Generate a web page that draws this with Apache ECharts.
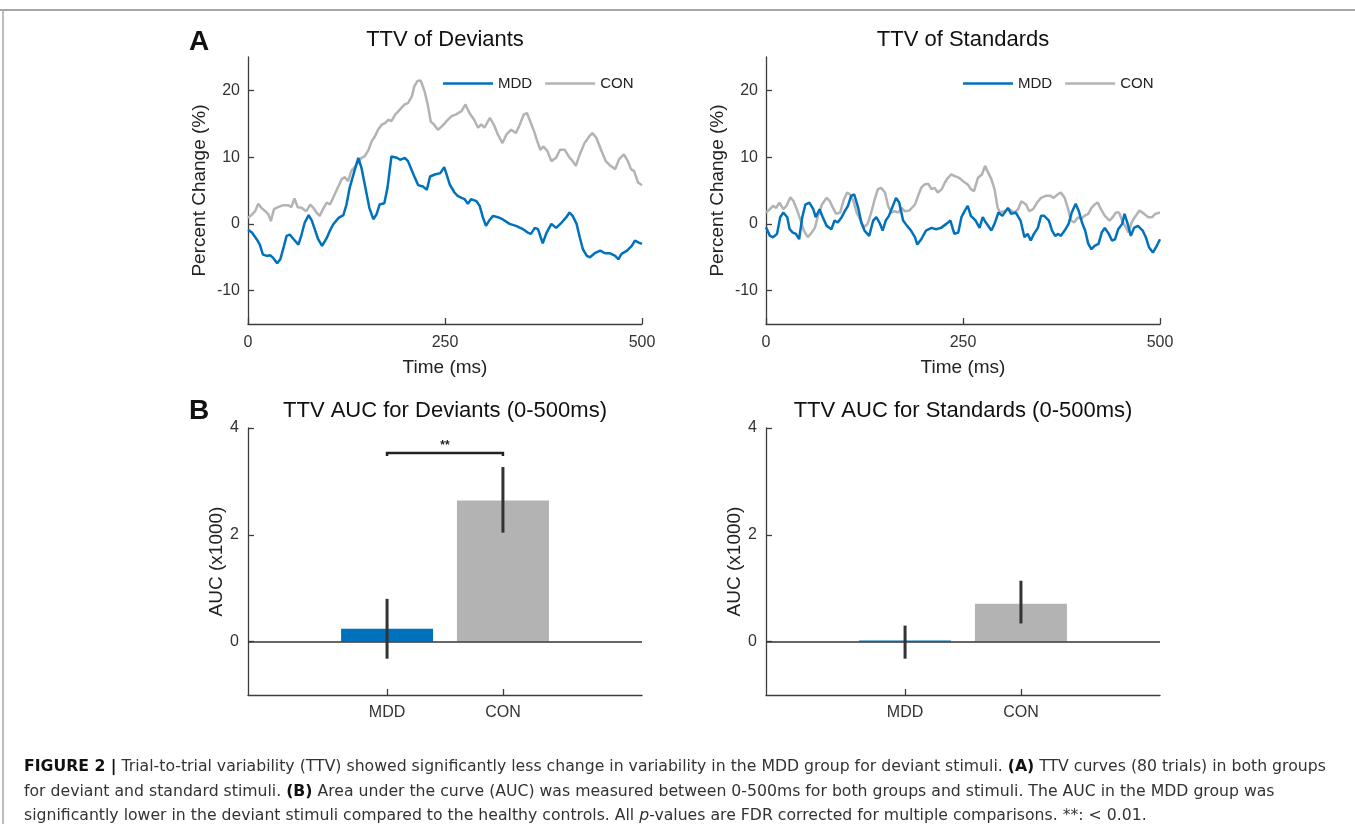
<!DOCTYPE html>
<html>
<head>
<meta charset="utf-8">
<script src="https://cdn.jsdelivr.net/npm/echarts@6/dist/echarts.min.js"></script>
<style>
html, body { margin: 0; padding: 0; background: #fff; }
#main { width: 1355px; height: 824px; }
</style>
</head>
<body>
<div id="main"></div>
<script>
// TTV curves, [time (ms), percent change]
var devMdd = [[0,-0.9],[5,-1.3],[11,-2.3],[15,-3.1],[19,-4.6],[24,-4.8],[28,-4.7],[32,-5.1],[37,-5.9],[41,-5.3],
	[45,-3.6],[49,-1.8],[53,-1.6],[58,-2.3],[64,-3.1],[68,-1.6],[72,0.2],[77,1.3],[81,0.5],[85,-0.9],
	[89,-2.3],[94,-3.3],[100,-2.1],[104,-1.0],[108,-0.1],[115,0.9],[121,1.3],[125,2.9],[129,5.4],[135,7.9],
	[140,9.9],[144,8.4],[149,5.4],[154,2.4],[159,0.7],[163,1.4],[167,2.9],[173,3.1],[177,5.4],[182,10.1],
	[189,9.9],[193,9.6],[199,9.9],[203,9.4],[210,7.4],[216,5.8],[222,5.6],[227,5.1],[231,7.1],[237,7.4],
	[244,7.6],[249,8.5],[252,7.4],[256,5.9],[262,4.7],[266,4.2],[271,3.9],[275,3.7],[279,3.0],[283,3.7],
	[290,3.4],[294,2.7],[298,1.0],[302,-0.3],[306,0.5],[311,1.2],[317,1.0],[323,0.7],[332,0.0],[340,-0.3],
	[349,-0.8],[355,-1.3],[359,-1.5],[364,-0.6],[368,-0.8],[374,-2.9],[379,-1.3],[385,0.0],[391,-0.6],[398,0.2],
	[404,1.0],[408,1.7],[412,1.2],[417,0.0],[421,-2.0],[425,-3.8],[430,-4.8],[434,-5.0],[440,-4.4],[447,-4.0],
	[453,-4.4],[459,-4.4],[466,-4.8],[470,-5.3],[474,-4.5],[481,-4.0],[487,-3.3],[491,-2.5],[496,-2.8],[500,-3.0]];

var devCon = [[0,0.9],[5,1.4],[9,1.9],[13,3.0],[17,2.4],[22,1.9],[26,1.4],[29,0.4],[33,2.2],[38,2.5],
	[45,2.8],[51,2.8],[55,2.5],[59,3.8],[63,2.5],[68,2.4],[74,1.9],[79,2.9],[83,2.4],[87,1.7],
	[91,1.2],[96,2.4],[100,3.2],[104,2.9],[108,3.9],[113,5.2],[119,6.7],[123,7.0],[127,6.4],[131,7.9],
	[138,8.9],[144,9.9],[148,10.1],[153,11.1],[157,12.4],[161,13.1],[165,14.1],[170,14.9],[174,15.1],[178,15.6],
	[182,15.4],[187,16.4],[191,16.9],[195,17.4],[199,17.9],[203,18.1],[208,19.1],[211,20.6],[215,21.4],[219,21.5],
	[224,19.9],[228,17.9],[232,15.3],[236,14.9],[241,14.1],[246,14.6],[250,15.1],[252,15.4],[258,16.1],[264,16.4],
	[271,16.9],[276,17.9],[281,16.6],[287,15.6],[292,14.4],[296,14.9],[300,14.4],[307,15.9],[313,14.6],[317,13.4],
	[323,12.1],[328,13.4],[334,14.1],[340,13.6],[345,14.9],[350,16.4],[354,16.6],[359,15.1],[363,13.9],[367,12.4],
	[371,11.1],[375,11.6],[380,10.9],[385,9.4],[391,9.9],[396,11.1],[402,11.1],[407,10.1],[412,9.4],[416,8.7],
	[421,10.4],[427,12.1],[433,13.1],[437,13.6],[442,12.9],[448,11.1],[454,9.4],[460,8.7],[466,8.2],[471,9.7],
	[477,10.4],[482,9.4],[486,8.2],[490,7.9],[495,6.2],[500,5.8]];

var stdMdd = [[0,-0.5],[5,-1.8],[9,-2.0],[14,-1.5],[18,1.0],[22,1.7],[27,1.0],[30,-0.8],[34,-1.3],[38,-1.5],
	[42,-2.3],[46,1.0],[50,2.9],[55,3.2],[60,2.2],[63,1.0],[68,2.2],[72,1.0],[77,-0.3],[83,-0.8],
	[87,0.5],[91,0.2],[96,1.0],[100,1.9],[104,2.7],[108,4.2],[112,4.4],[117,2.4],[121,0.2],[125,-1.0],
	[131,-1.8],[136,0.5],[140,1.0],[144,0.2],[148,-1.0],[152,0.5],[156,1.2],[161,2.7],[165,3.9],[169,3.2],
	[174,0.5],[179,-0.3],[184,-1.0],[189,-2.0],[192,-3.1],[197,-2.3],[203,-1.0],[210,-0.6],[216,-0.8],[222,-0.6],
	[229,0.0],[234,0.5],[239,-1.5],[244,-1.3],[248,1.0],[252,1.9],[256,2.7],[260,1.2],[266,0.5],[271,-0.6],
	[275,1.0],[279,0.2],[286,-1.0],[290,0.0],[295,1.7],[300,1.2],[307,2.4],[311,1.5],[317,1.7],[323,0.5],
	[328,-2.0],[332,-1.5],[336,-2.5],[340,-1.5],[345,-0.6],[349,1.2],[353,1.2],[359,0.5],[363,-1.0],[367,-1.8],
	[371,-1.5],[374,-1.8],[379,-1.0],[384,0.0],[388,1.7],[393,3.0],[397,1.9],[401,0.2],[405,-1.0],[409,-3.0],
	[413,-3.8],[417,-3.3],[422,-3.0],[426,-1.3],[430,-0.6],[435,-1.5],[439,-2.5],[443,-2.3],[447,-0.8],[452,0.0],
	[455,1.5],[459,0.0],[463,-1.8],[467,-0.6],[472,-0.3],[478,-1.0],[482,-2.0],[486,-3.5],[491,-4.3],[495,-3.5],[500,-2.3]];

var stdCon = [[0,1.7],[5,2.2],[9,2.7],[13,2.4],[17,3.2],[22,2.2],[26,2.7],[31,4.0],[35,3.4],[39,2.2],
	[44,0.5],[48,-1.0],[53,-2.0],[58,-1.3],[62,-0.6],[66,1.2],[71,2.9],[77,3.9],[81,3.4],[85,2.4],
	[89,1.5],[94,1.7],[99,3.7],[103,4.7],[107,4.4],[111,3.4],[115,1.7],[120,0.5],[124,-0.5],[129,0.0],
	[134,1.9],[138,3.7],[142,5.2],[146,5.4],[151,4.7],[155,2.7],[159,1.7],[163,1.9],[168,1.7],[172,2.4],
	[176,1.9],[182,2.0],[189,2.9],[193,4.2],[197,5.4],[201,5.9],[206,6.0],[210,5.2],[214,5.4],[218,4.7],
	[223,5.2],[227,6.2],[231,6.9],[235,7.4],[239,7.2],[245,6.9],[250,6.4],[252,6.2],[256,5.9],[260,5.2],
	[264,4.9],[269,6.9],[274,7.4],[278,8.7],[281,7.9],[286,6.7],[290,5.2],[294,2.4],[297,1.7],[302,1.9],
	[309,2.2],[315,1.7],[320,2.2],[324,3.4],[330,2.9],[334,1.9],[339,2.2],[344,3.2],[349,3.9],[355,4.2],
	[361,4.2],[365,3.9],[370,4.4],[374,4.7],[379,3.9],[383,2.4],[387,0.5],[391,0.2],[396,1.0],[400,0.7],
	[404,1.2],[409,1.5],[413,2.4],[417,2.9],[421,3.2],[425,2.2],[430,1.2],[436,0.5],[440,1.0],[444,1.7],
	[448,1.7],[452,0.5],[457,-0.6],[460,-1.3],[464,0.2],[468,1.0],[474,2.0],[480,1.5],[485,1.0],[490,1.0],
	[494,1.5],[500,1.7]];

// AUC (x1000) per group, with error bar ends
var groups = ['MDD', 'CON'];
var aucDev = [0.24, 2.64];
var aucDevLow = [-0.32, 2.04];
var aucDevHigh = [0.80, 3.27];
var aucStd = [0.02, 0.71];
var aucStdLow = [-0.32, 0.34];
var aucStdHigh = [0.30, 1.14];
var sigDev = [1, 2, 3.53];   // MDD vs CON bracket height

var timeTicks = [0, 250, 500];
var pctTicks = [-10, 0, 10, 20];
var aucTicks = [0, 2, 4];

var blue = '#0072BD';
var gray = '#B3B3B3';
var axisColor = '#3d3d3d';
var FONT = '"Liberation Sans", Arial, sans-serif';
var CAPFONT = '"DejaVu Sans", sans-serif';
var CAPSIZE = 15.7;

var myChart = echarts.init(document.getElementById('main'));

function baseAxis(extra) {
	var a = {
		axisLine: { show: true, onZero: false, lineStyle: { color: axisColor, width: 1.3 } },
		axisTick: { show: true, inside: true, length: 6, lineStyle: { color: axisColor, width: 1.3 } },
		axisLabel: { color: '#333', fontSize: 16, fontFamily: FONT },
		splitLine: { show: false },
		nameLocation: 'middle',
		nameTextStyle: { color: '#222', fontSize: 19, fontFamily: FONT }
	};
	for (var k in extra) {
		if (typeof extra[k] === 'object' && a[k] && !Array.isArray(extra[k])) {
			a[k] = Object.assign({}, a[k], extra[k]);
		} else {
			a[k] = extra[k];
		}
	}
	return a;
}

function timeX(gi) {
	return baseAxis({
		type: 'value', gridIndex: gi, min: 0, max: 500,
		axisTick: { customValues: timeTicks },
		axisLabel: { customValues: timeTicks, margin: 11 },
		name: 'Time (ms)', nameGap: 34
	});
}
function pctY(gi) {
	return baseAxis({
		type: 'value', gridIndex: gi, min: -15, max: 25,
		axisTick: { customValues: pctTicks },
		axisLabel: { customValues: pctTicks, margin: 8 },
		name: 'Percent Change (%)', nameGap: 39
	});
}
function groupX(gi) {
	return baseAxis({
		type: 'value', gridIndex: gi, min: -0.2, max: 3.2,
		axisTick: { customValues: [1, 2] },
		axisLabel: { customValues: [1, 2], margin: 10, formatter: function (v) { return groups[Math.round(v) - 1]; } }
	});
}
function aucY(gi) {
	return baseAxis({
		type: 'value', gridIndex: gi, min: -1, max: 4,
		axisTick: { customValues: aucTicks },
		axisLabel: { customValues: aucTicks, margin: 9 },
		name: 'AUC (x1000)', nameGap: 22
	});
}

function lineSeries(name, data, color, gi) {
	return {
		name: name, type: 'line', xAxisIndex: gi, yAxisIndex: gi,
		data: data, symbol: 'none', smooth: false,
		lineStyle: { color: color, width: 2.5 },
		itemStyle: { color: color }
	};
}

function barSeries(vals, gi) {
	return {
		name: 'AUC', type: 'bar', xAxisIndex: gi, yAxisIndex: gi, barWidth: 92, z: 2,
		data: vals.map(function (v, i) {
			return { value: [i + 1, v], itemStyle: { color: i === 0 ? blue : gray } };
		})
	};
}

function zeroLine(gi) {
	return {
		type: 'line', xAxisIndex: gi, yAxisIndex: gi, data: [], z: 1, silent: true,
		markLine: {
			symbol: 'none', silent: true, label: { show: false },
			lineStyle: { color: '#333', width: 1.5, type: 'solid' },
			data: [{ yAxis: 0 }]
		}
	};
}

function errSeries(low, high, gi) {
	return {
		type: 'custom', xAxisIndex: gi, yAxisIndex: gi, z: 4,
		data: low.map(function (l, i) { return [i + 1, l, high[i]]; }),
		encode: { x: 0, y: [1, 2] },
		renderItem: function (params, api) {
			var a = api.coord([api.value(0), api.value(1)]);
			var b = api.coord([api.value(0), api.value(2)]);
			return {
				type: 'line',
				shape: { x1: a[0], y1: a[1], x2: b[0], y2: b[1] },
				style: { stroke: '#333', lineWidth: 3 }
			};
		}
	};
}

function sigSeries(sig, gi) {
	return {
		type: 'custom', xAxisIndex: gi, yAxisIndex: gi, z: 4,
		data: [sig],
		encode: { x: [0, 1], y: 2 },
		renderItem: function (params, api) {
			var p1 = api.coord([api.value(0), api.value(2)]);
			var p2 = api.coord([api.value(1), api.value(2)]);
			return {
				type: 'group',
				children: [{
					type: 'polyline',
					shape: { points: [[p1[0], p1[1] + 3], p1, p2, [p2[0], p2[1] + 3]] },
					style: { stroke: '#222', lineWidth: 2.5, fill: null }
				}, {
					type: 'text',
					x: (p1[0] + p2[0]) / 2, y: p1[1] - 1,
					style: { text: '**', fill: '#222', font: 'bold 12px ' + FONT, align: 'center', verticalAlign: 'bottom' }
				}]
			};
		}
	};
}

function label(text, x, y, size, weight) {
	return {
		type: 'text', x: x, y: y, silent: true,
		style: { text: text, fill: '#111', font: (weight || 'normal') + ' ' + size + 'px ' + FONT, align: weight === 'bold' ? 'left' : 'center', verticalAlign: 'middle' }
	};
}

var capRich = {
	b: { fontWeight: 'bold', fontSize: CAPSIZE, fontFamily: CAPFONT, fill: '#111' },
	i: { fontStyle: 'italic', fontSize: CAPSIZE, fontFamily: CAPFONT, fill: '#333' }
};
function capLine(text, y) {
	return {
		type: 'text', x: 24, y: y, silent: true,
		style: { text: text, rich: capRich, fill: '#333', font: CAPSIZE + 'px ' + CAPFONT, align: 'left', verticalAlign: 'middle' }
	};
}

var option = {
	backgroundColor: '#fff',
	animation: false,
	grid: [
		{ left: 248, top: 57, width: 394, height: 267, outerBoundsMode: 'none' },
		{ left: 766, top: 57, width: 394, height: 267, outerBoundsMode: 'none' },
		{ left: 248, top: 428, width: 394, height: 267, outerBoundsMode: 'none' },
		{ left: 766, top: 428, width: 394, height: 267, outerBoundsMode: 'none' }
	],
	xAxis: [timeX(0), timeX(1), groupX(2), groupX(3)],
	yAxis: [pctY(0), pctY(1), aucY(2), aucY(3)],
	legend: [
		{ left: 443, top: 76, data: ['MDD', 'CON'], icon: 'rect', itemWidth: 50, itemHeight: 2.5, itemGap: 13, padding: 0,
		  textStyle: { fontSize: 15, color: '#222', fontFamily: FONT } },
		{ left: 963, top: 76, data: ['MDD', 'CON'], icon: 'rect', itemWidth: 50, itemHeight: 2.5, itemGap: 13, padding: 0,
		  textStyle: { fontSize: 15, color: '#222', fontFamily: FONT } }
	],
	series: [
		lineSeries('CON', devCon, gray, 0),
		lineSeries('MDD', devMdd, blue, 0),
		lineSeries('CON', stdCon, gray, 1),
		lineSeries('MDD', stdMdd, blue, 1),
		zeroLine(2), zeroLine(3),
		barSeries(aucDev, 2),
		barSeries(aucStd, 3),
		errSeries(aucDevLow, aucDevHigh, 2),
		errSeries(aucStdLow, aucStdHigh, 3),
		sigSeries(sigDev, 2)
	],
	graphic: [
		{ type: 'line', silent: true, shape: { x1: 0, y1: 10, x2: 1355, y2: 10 }, style: { stroke: '#a6a6a6', lineWidth: 2 } },
		{ type: 'line', silent: true, shape: { x1: 3, y1: 10, x2: 3, y2: 824 }, style: { stroke: '#a6a6a6', lineWidth: 1.5 } },
		label('A', 189, 42, 28, 'bold'),
		label('B', 189, 411, 28, 'bold'),
		label('TTV of Deviants', 445, 40, 22),
		label('TTV of Standards', 963, 40, 22),
		label('TTV AUC for Deviants (0-500ms)', 445, 411, 22),
		label('TTV AUC for Standards (0-500ms)', 963, 411, 22),
		capLine('{b|FIGURE 2 |} Trial-to-trial variability (TTV) showed significantly less change in variability in the MDD group for deviant stimuli. {b|(A)} TTV curves (80 trials) in both groups', 767),
		capLine('for deviant and standard stimuli. {b|(B)} Area under the curve (AUC) was measured between 0-500ms for both groups and stimuli. The AUC in the MDD group was', 792),
		capLine('significantly lower in the deviant stimuli compared to the healthy controls. All {i|p}-values are FDR corrected for multiple comparisons. **: < 0.01.', 816)
	]
};
myChart.setOption(option, true);
</script>
</body>
</html>
